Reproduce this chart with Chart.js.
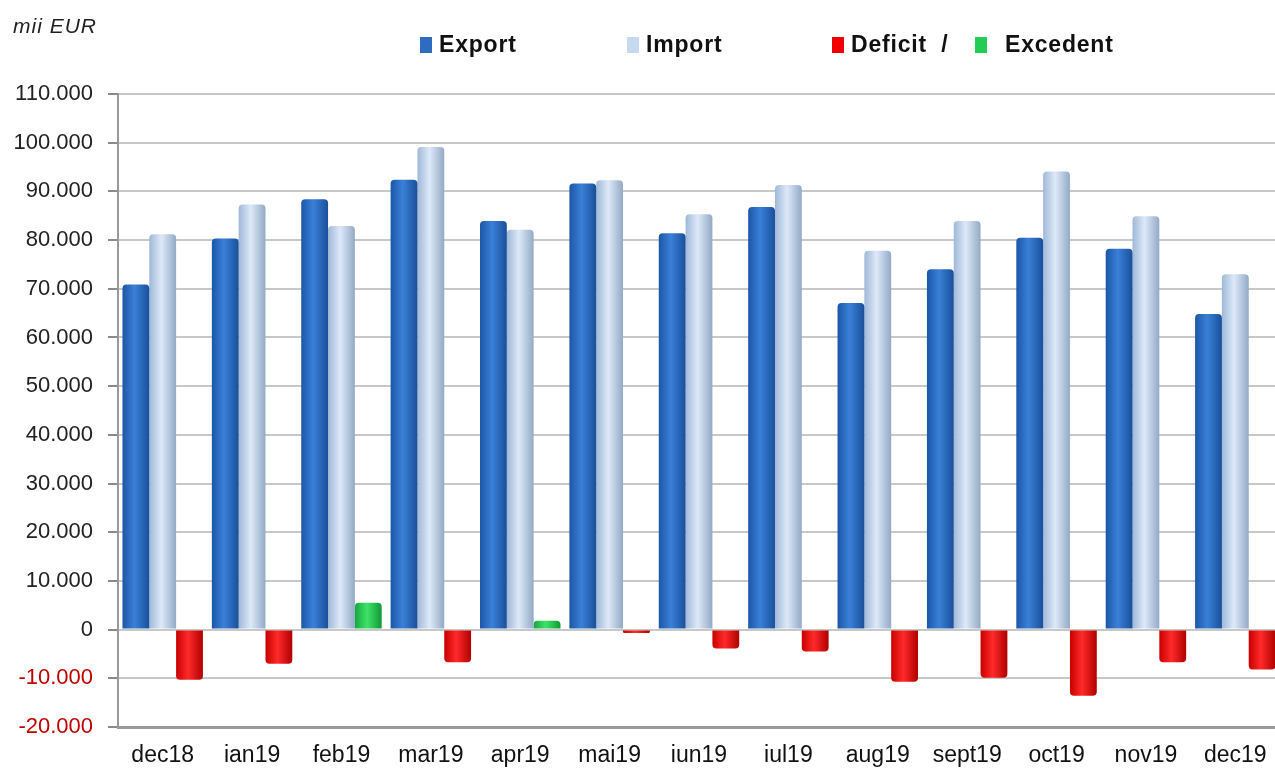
<!DOCTYPE html>
<html>
<head>
<meta charset="utf-8">
<script src="https://cdn.jsdelivr.net/npm/chart.js@4/dist/chart.umd.min.js"></script>
<style>
  html, body { margin: 0; padding: 0; background: #fff; overflow: hidden; }
  #wrap { position: relative; width: 1286px; height: 770px; }
  #unit {
    position: absolute; left: 13px; top: 14px; letter-spacing: 1px;
    font: italic 21px "Liberation Sans", Arial, sans-serif; color: #222;
  }
  #legend {
    position: absolute; top: 31px; left: 0; width: 1275px; letter-spacing: 0.8px;
    font: bold 23px "Liberation Sans", Arial, sans-serif; color: #111;
  }
  #legend span { position: absolute; white-space: nowrap; }
  #legend i {
    display: inline-block; width: 12px; height: 16px; margin-right: 7px;
    vertical-align: -1px;
  }
</style>
</head>
<body>
<div id="wrap">
  <canvas id="graph" width="1286" height="770"></canvas>
  <div id="unit">mii EUR</div>
  <div id="legend">
    <span style="left:420px"><i style="background:#2d6cc0"></i>Export</span>
    <span style="left:627px"><i style="background:#c6d9f1"></i>Import</span>
    <span style="left:832px"><i style="background:#f00000"></i>Deficit&nbsp;&nbsp;/</span>
    <span style="left:975px"><i style="background:#22cc55;margin-right:18px"></i>Excedent</span>
  </div>
</div>
<script>
// luni
const months = ["dec18", "ian19", "feb19", "mar19", "apr19", "mai19", "iun19",
  "iul19", "aug19", "sept19", "oct19", "nov19", "dec19"];

// valori in mii EUR
const exportValues = [70900, 80300, 88400, 92400, 83900, 91600, 81400,
  86800, 67100, 74000, 80500, 78200, 64800];
const importValues = [81200, 87300, 82900, 99100, 82100, 92300, 85300,
  91300, 77800, 83900, 94100, 84900, 73000];
const balanceValues = [-10300, -7000, 5500, -6700, 1800, -700, -3900,
  -4500, -10700, -9900, -13600, -6700, -8200];

const yMin = -20000;
const yMax = 110000;
const yStep = 10000;

// gradient orizontal ca sa para cilindru
const cylinder = (edge, mid, edge2) => (context) => {
  const el = context.element;
  if (!el || el.x === undefined || !isFinite(el.x) || !el.width) return mid;
  const ctx = context.chart.ctx;
  const g = ctx.createLinearGradient(el.x - el.width / 2, 0, el.x + el.width / 2, 0);
  g.addColorStop(0, edge);
  g.addColorStop(0.45, mid);
  g.addColorStop(1, edge2);
  return g;
};

const redFill = cylinder("#c80000", "#ff2a2a", "#b00000");
const greenFill = cylinder("#14a83c", "#3ee26a", "#0e9a34");

const formatNum = (v) => {
  if (v === 0) return "0";
  const s = Math.abs(v).toString().replace(/\B(?=(\d{3})+(?!\d))/g, ".");
  return (v < 0 ? "-" : "") + s;
};

const chart = new Chart(document.getElementById("graph"), {
  type: "bar",
  data: {
    labels: months,
    datasets: [
      {
        label: "Export",
        data: exportValues,
        backgroundColor: cylinder("#1c56a6", "#3a80d8", "#1a4f9a"),
      },
      {
        label: "Import",
        data: importValues,
        backgroundColor: cylinder("#9fb8d8", "#dde9f8", "#93a9c6"),
      },
      {
        label: "Deficit / Excedent",
        data: balanceValues,
        backgroundColor: (c) => (c.raw >= 0 ? greenFill(c) : redFill(c)),
      },
    ],
  },
  options: {
    responsive: false,
    animation: false,
    layout: { padding: { top: 94, right: 6, left: 8, bottom: 0 } },
    datasets: {
      bar: {
        categoryPercentage: 0.9,
        barPercentage: 1.0,
        borderWidth: 0,
        borderRadius: 4,
        borderSkipped: "start",
      },
    },
    scales: {
      x: {
        afterFit(scale) {
          scale.height = 43;
        },
        grid: { display: false, drawTicks: false },
        border: { color: "#9a9a9a", width: 3 },
        ticks: {
          color: "#111",
          font: { family: "'Liberation Sans', Arial, sans-serif", size: 23 },
          padding: 15,
          maxRotation: 0,
          autoSkip: false,
        },
      },
      y: {
        min: yMin,
        max: yMax,
        afterFit(scale) {
          scale.width = 110;
        },
        grid: {
          color: "#c8c8c8",
          lineWidth: 2,
          tickLength: 10,
          tickColor: "#8a8a8a",
        },
        border: { color: "#9a9a9a", width: 2 },
        ticks: {
          stepSize: yStep,
          padding: 15,
          color: (c) => (c.tick && c.tick.value < 0 ? "#c00000" : "#222"),
          font: { family: "'Liberation Sans', Arial, sans-serif", size: 22 },
          callback: (value) => formatNum(value),
        },
      },
    },
    plugins: {
      legend: { display: false },
      tooltip: { enabled: false },
    },
  },
});

// a doua trecere, ca sa avem pozitiile barelor pentru gradient
chart.update();
</script>
</body>
</html>
